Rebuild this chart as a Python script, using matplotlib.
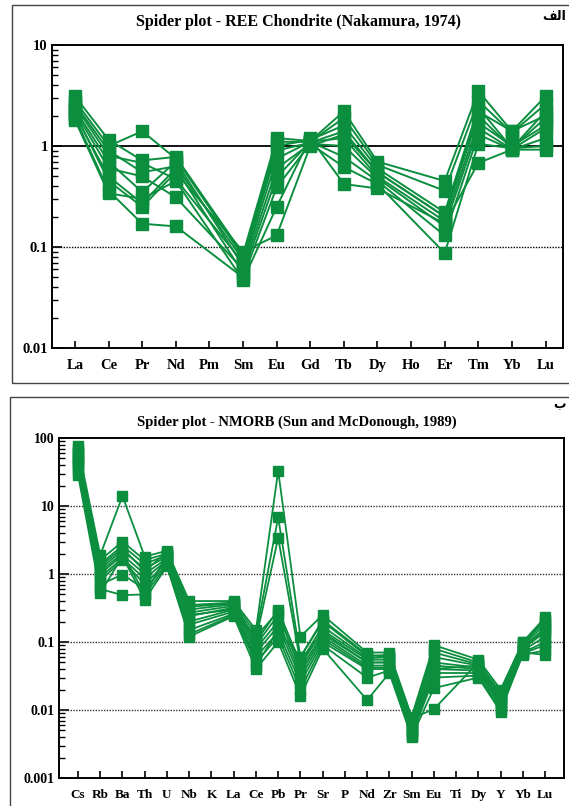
#!/usr/bin/env python3
"""Spider plots: REE chondrite-normalised and NMORB-normalised patterns."""
import numpy as np
import matplotlib
matplotlib.use("Agg")
import matplotlib.pyplot as plt
from matplotlib.patches import Rectangle
from matplotlib.ticker import LogLocator, NullFormatter, FixedLocator, FixedFormatter

nan = np.nan

# --- REE / Chondrite (Nakamura, 1974) ---
REE = ["La", "Ce", "Pr", "Nd", "Pm", "Sm", "Eu", "Gd", "Tb", "Dy", "Ho", "Er", "Tm", "Yb", "Lu"]
REE_SAMPLES = [
    [3.1, 1.15, 0.72, 0.78, nan, 0.085, 1.20, 1.12, 2.20, 0.70, nan, 0.45, 3.50, 1.40, 3.10],
    [2.8, 1.00, 1.40, 0.75, nan, 0.080, 1.10, 1.10, 1.90, 0.65, nan, 0.36, 2.80, 1.35, 2.60],
    [2.6, 0.90, 0.55, 0.63, nan, 0.075, 1.00, 1.15, 1.60, 0.60, nan, 0.22, 2.40, 0.95, 2.20],
    [2.5, 0.80, 0.68, 0.47, nan, 0.070, 0.90, 1.08, 1.40, 0.55, nan, 0.20, 2.00, 0.95, 1.90],
    [2.3, 0.70, 0.35, 0.70, nan, 0.065, 0.75, 1.10, 1.20, 0.50, nan, 0.18, 1.70, 1.00, 1.60],
    [2.2, 0.60, 0.50, 0.31, nan, 0.060, 0.60, 1.05, 1.00, 0.48, nan, 0.16, 1.50, 0.93, 1.50],
    [2.0, 0.50, 0.27, 0.60, nan, 0.055, 0.49, 1.10, 0.78, 0.45, nan, 0.13, 1.30, 0.92, 1.20],
    [1.9, 0.36, 0.17, 0.16, nan, 0.050, 0.39, 1.05, 0.62, 0.42, nan, 0.087, 1.05, 0.95, 1.00],
    [1.8, 0.34, 0.30, 0.45, nan, 0.047, 0.25, 1.20, 0.42, 0.38, nan, 0.17, 0.68, 0.92, 0.92],
    [2.1, 0.45, 0.25, 0.55, nan, 0.090, 0.13, 1.00, 1.30, 0.55, nan, 0.20, 2.20, 1.40, 2.00],
]

# --- Multi-element / NMORB (Sun and McDonough, 1989) ---
TRACE = ["Cs", "Rb", "Ba", "Th", "U", "Nb", "K", "La", "Ce", "Pb", "Pr", "Sr",
         "P", "Nd", "Zr", "Sm", "Eu", "Ti", "Dy", "Y", "Yb", "Lu"]
TRACE_SAMPLES = [
    [75, 1.9, 14.0, 1.80, 2.20, 0.40, nan, 0.40, 0.15, 33.0, 0.120, 0.25, nan, 0.070, 0.070, 0.0080, 0.090, nan, 0.055, 0.020, 0.100, 0.23],
    [68, 1.6, 3.00, 1.60, 2.00, 0.35, nan, 0.38, 0.13, 6.80, 0.060, 0.20, nan, 0.062, 0.065, 0.0070, 0.080, nan, 0.050, 0.018, 0.095, 0.20],
    [60, 1.4, 2.60, 1.40, 1.90, 0.30, nan, 0.36, 0.11, 3.40, 0.050, 0.17, nan, 0.058, 0.060, 0.0065, 0.070, nan, 0.047, 0.016, 0.090, 0.18],
    [55, 1.2, 2.20, 1.20, 1.80, 0.27, nan, 0.34, 0.10, 0.30, 0.045, 0.15, nan, 0.055, 0.055, 0.0060, 0.060, nan, 0.045, 0.015, 0.085, 0.16],
    [50, 1.0, 1.90, 1.00, 1.70, 0.24, nan, 0.32, 0.09, 0.25, 0.040, 0.13, nan, 0.050, 0.050, 0.0055, 0.050, nan, 0.042, 0.014, 0.080, 0.14],
    [45, 0.9, 1.70, 0.85, 1.60, 0.20, nan, 0.30, 0.08, 0.20, 0.035, 0.12, nan, 0.045, 0.045, 0.0050, 0.045, nan, 0.040, 0.013, 0.075, 0.12],
    [42, 0.8, 1.60, 0.70, 1.50, 0.18, nan, 0.28, 0.07, 0.17, 0.030, 0.11, nan, 0.042, 0.042, 0.0048, 0.040, nan, 0.038, 0.012, 0.070, 0.10],
    [38, 0.7, 0.98, 0.60, 1.40, 0.15, nan, 0.26, 0.06, 0.14, 0.025, 0.10, nan, 0.040, 0.040, 0.0045, 0.035, nan, 0.035, 0.011, 0.068, 0.09],
    [33, 0.6, 0.49, 0.50, 1.35, 0.13, nan, 0.25, 0.05, 0.12, 0.020, 0.09, nan, 0.030, 0.038, 0.0042, 0.030, nan, 0.032, 0.010, 0.065, 0.075],
    [29, 0.53, 1.80, 0.42, 1.30, 0.12, nan, 0.24, 0.04, 0.10, 0.016, 0.08, nan, 0.014, 0.035, 0.0040, 0.021, nan, 0.030, 0.0095, 0.070, 0.065],
    [48, 1.3, 2.40, 1.10, 2.10, 0.33, nan, 0.37, 0.045, 0.15, 0.060, 0.21, nan, 0.065, 0.060, 0.0075, 0.0103, nan, 0.050, 0.017, 0.100, 0.21],
    [62, 1.1, 2.00, 0.50, 1.90, 0.25, nan, 0.30, 0.12, 0.28, 0.050, 0.14, nan, 0.050, 0.050, 0.0060, 0.040, nan, 0.045, 0.015, 0.080, 0.15],
]

GREEN = "#0b8e3e"
SERIF = "Liberation Serif"
W, H = 569, 806


def px_rect(left, top, right, bottom):
    """pixel box -> figure fraction [l, b, w, h]"""
    return [left / W, 1 - bottom / H, (right - left) / W, (bottom - top) / H]


def spider(ax, labels, samples, ms, lw, xsize):
    x = np.arange(len(labels))
    for s in samples:
        s = np.array(s, dtype=float)
        ok = ~np.isnan(s)
        ax.plot(x[ok], s[ok], color=GREEN, lw=lw, marker="s", ms=ms,
                mec=GREEN, mfc=GREEN, zorder=3)
    ax.set_yscale("log")
    ax.xaxis.set_major_locator(FixedLocator(x))
    ax.xaxis.set_major_formatter(FixedFormatter(labels))
    ax.tick_params(axis="x", direction="in", length=5, width=1.2, pad=8,
                   top=False, labelsize=xsize)
    ax.tick_params(axis="y", which="major", direction="in", length=7, width=1.2,
                   right=False, labelsize=10.5, pad=3)
    ax.tick_params(axis="y", which="minor", direction="in", length=4, width=1,
                   right=False)
    ax.yaxis.set_minor_locator(LogLocator(base=10, subs=np.arange(2, 10)))
    ax.yaxis.set_minor_formatter(NullFormatter())
    for sp in ax.spines.values():
        sp.set_linewidth(1.4)


def bold_serif_ticks(ax):
    for lab in ax.get_xticklabels() + ax.get_yticklabels():
        lab.set_fontfamily(SERIF)
        lab.set_fontweight("bold")


fig = plt.figure(figsize=(W / 100, H / 100), dpi=100)

# panel frames
fig.add_artist(Rectangle((12 / W, 1 - 383 / H), 600 / W, 378 / H, transform=fig.transFigure,
                         fill=False, lw=1.0, ec="#444444"))
fig.add_artist(Rectangle((10 / W, -0.05), 600 / W, 1 - 397 / H + 0.05, transform=fig.transFigure,
                         fill=False, lw=1.0, ec="#444444"))

# top: REE
ax1 = fig.add_axes(px_rect(52, 45, 563, 348))
spider(ax1, REE, REE_SAMPLES, ms=8, lw=1.4, xsize=10.5)
ax1.set_xlim(-0.685, 14.52)
ax1.set_ylim(0.01, 10)
ax1.yaxis.set_major_locator(FixedLocator([0.01, 0.1, 1, 10]))
ax1.yaxis.set_major_formatter(FixedFormatter(["0.01", "0.1", "1", "10"]))
bold_serif_ticks(ax1)
ax1.axhline(1, color="black", lw=1.3, zorder=2)
ax1.axhline(0.1, color="black", lw=1.0, ls=(0, (1, 1)), zorder=2)
fig.text(298 / W, 1 - 22 / H, "Spider plot - REE Chondrite (Nakamura, 1974)",
         ha="center", va="center", fontsize=11.5, fontweight="bold", family=SERIF)

# bottom: NMORB
ax2 = fig.add_axes(px_rect(59, 438, 564, 778))
spider(ax2, TRACE, TRACE_SAMPLES, ms=6.5, lw=1.3, xsize=9.5)
ax2.set_xlim(-0.854, 21.85)
ax2.set_ylim(0.001, 100)
ax2.yaxis.set_major_locator(FixedLocator([0.001, 0.01, 0.1, 1, 10, 100]))
ax2.yaxis.set_major_formatter(FixedFormatter(["0.001", "0.01", "0.1", "1", "10", "100"]))
ax2.tick_params(axis="y", labelsize=10)
bold_serif_ticks(ax2)
for v in [10, 1, 0.1, 0.01]:
    ax2.axhline(v, color="#333333", lw=1.0, ls=(0, (1, 1)), zorder=2)
fig.text(297 / W, 1 - 422 / H, "Spider plot - NMORB (Sun and McDonough, 1989)",
         ha="center", va="center", fontsize=10.5, fontweight="bold", family=SERIF)

# panel letters (Persian)
fig.text(566 / W, 1 - 16 / H, "ﻒﻟﺍ", ha="right", va="center", fontsize=9,
         fontweight="bold", family=["DejaVu Sans"])
fig.text(566 / W, 1 - 405 / H, "ﺏ", ha="right", va="center", fontsize=9,
         fontweight="bold", family=["DejaVu Sans"])

plt.savefig("out.png", dpi=100)
